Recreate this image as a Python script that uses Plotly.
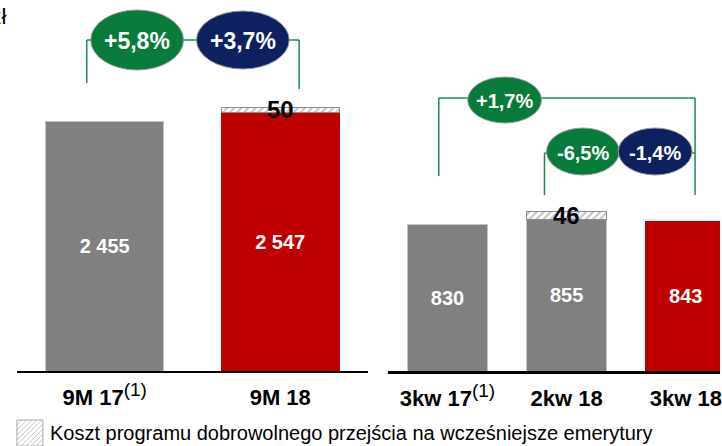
import plotly.graph_objects as go

# ---------------- data ----------------
left_categories = ["9M 17", "9M 18"]
left_values = [2455, 2547]
left_cost = [0, 50]

right_categories = ["3kw 17", "2kw 18", "3kw 18"]
right_values = [830, 855, 843]
right_cost = [0, 46, 0]

left_tick_labels = ["9M 17", "9M 18"]
left_tick_notes = ["(1)", ""]
right_tick_labels = ["3kw 17", "2kw 18", "3kw 18"]
right_tick_notes = ["(1)", "", ""]

left_changes = ["+5,8%", "+3,7%"]
right_changes = ["+1,7%", "-6,5%", "-1,4%"]

legend_label = "Koszt programu dobrowolnego przejścia na wcześniejsze emerytury"
unit_label = "mln zł"

# ---------------- style ----------------
W, H = 722, 446
FONT = "Liberation Sans, Arial, sans-serif"
GRAY = "#808080"
RED = "#C00000"
GREEN = "#087A3A"
NAVY = "#0D2160"
LINE_GREEN = "#1E8A4C"
left_colors = [GRAY, RED]
right_colors = [GRAY, GRAY, RED]
left_outline = ["#C4C4C4", RED]
right_outline = ["#C4C4C4", "#C4C4C4", RED]


def px(x):
    return x / W


def py(y):
    return 1 - y / H


def fmt(v):
    return f"{v:,}".replace(",", " ")


def tick(label, note):
    t = f"<b>{label}</b>"
    if note:
        t += f"<sup><span style='font-size:19px'>{note}</span></sup>"
    return t


fig = go.Figure()

hatch = dict(shape="/", fgcolor="#8C8C8C", bgcolor="white", size=5, solidity=0.45)

for cats, vals, cost, colors, outl, xa, ya in [
    (left_categories, left_values, left_cost, left_colors, left_outline, "x", "y"),
    (right_categories, right_values, right_cost, right_colors, right_outline, "x2", "y2"),
]:
    fig.add_trace(go.Bar(
        x=cats, y=vals, xaxis=xa, yaxis=ya,
        marker=dict(color=colors, line=dict(color=outl, width=1)),
        text=[fmt(v) for v in vals], textposition="inside",
        insidetextanchor="middle", textangle=0,
        textfont=dict(color="white", size=20, family=FONT),
        texttemplate="<b>%{text}</b>",
        hoverinfo="skip", showlegend=False,
    ))
    fig.add_trace(go.Bar(
        x=cats, y=[c if c else None for c in cost], xaxis=xa, yaxis=ya,
        marker=dict(color="white", pattern=hatch, line=dict(color="#8C8C8C", width=1)),
        hoverinfo="skip", showlegend=False,
    ))
    for c, v, k in zip(cats, vals, cost):
        if k:
            fig.add_annotation(
                x=c, y=v + k / 2, xref=xa, yref=ya, text=f"<b>{k}</b>",
                showarrow=False, yanchor="middle", xanchor="center",
                font=dict(size=24, color="black", family=FONT),
            )

base_y = py(371)
fig.update_layout(
    width=W, height=H,
    margin=dict(l=0, r=0, t=0, b=0),
    paper_bgcolor="white", plot_bgcolor="white",
    barmode="stack", bargap=0.33,
    font=dict(family=FONT, color="black"),
    xaxis=dict(domain=[px(17), px(369)], range=[-0.5, 1.5],
               showline=True, linecolor="black", linewidth=2,
               showgrid=False, zeroline=False, ticks="",
               tickvals=left_categories,
               ticktext=[tick(a, b) for a, b in zip(left_tick_labels, left_tick_notes)],
               tickfont=dict(size=22, color="black", family=FONT),
               ticklabelstandoff=6, anchor="y"),
    yaxis=dict(domain=[base_y, 1], range=[0, 3650], visible=False),
    xaxis2=dict(domain=[px(389), 1], range=[-0.5, 2.287],
                showline=True, linecolor="black", linewidth=3,
                showgrid=False, zeroline=False, ticks="",
                tickvals=right_categories,
                ticktext=[tick(a, b) for a, b in zip(right_tick_labels, right_tick_notes)],
                tickfont=dict(size=22, color="black", family=FONT),
                ticklabelstandoff=6, anchor="y2"),
    yaxis2=dict(domain=[base_y, 1], range=[0, 2096], visible=False),
)

shapes = []


def hline(x0, x1, y):
    shapes.append(dict(type="line", xref="paper", yref="paper",
                       x0=px(x0), x1=px(x1), y0=py(y), y1=py(y),
                       line=dict(color=LINE_GREEN, width=1.5)))


def vline(x, y0, y1):
    shapes.append(dict(type="line", xref="paper", yref="paper",
                       x0=px(x), x1=px(x), y0=py(y0), y1=py(y1),
                       line=dict(color=LINE_GREEN, width=1.5)))


def ellipse(x0, x1, y0, y1, color, text, size):
    shapes.append(dict(type="circle", xref="paper", yref="paper",
                       x0=px(x0), x1=px(x1), y0=py(y1), y1=py(y0),
                       fillcolor=color, line=dict(color="#9A9A9A", width=1)))
    fig.add_annotation(x=px((x0 + x1) / 2), y=py((y0 + y1) / 2 + 1.5),
                       xref="paper", yref="paper", text=f"<b>{text}</b>",
                       showarrow=False, xanchor="center", yanchor="middle",
                       font=dict(size=size, color="white", family=FONT))


# left brackets
hline(87, 300, 40)
vline(87, 40, 83)
vline(300, 40, 89)
# right brackets
hline(440, 697, 98)
vline(440, 98, 176)
vline(697, 98, 195)
hline(546, 697, 153)
vline(546, 153, 195)

ellipse(91, 184, 10, 70, GREEN, left_changes[0], 23)
ellipse(197, 290, 11, 69, NAVY, left_changes[1], 23)
ellipse(469, 543, 77, 123, GREEN, right_changes[0], 20)
ellipse(548, 621, 128, 175, GREEN, right_changes[1], 20)
ellipse(620, 694, 128, 175, NAVY, right_changes[2], 20)

# legend swatch (hatched square)
lx0, lx1, ly0, ly1 = 17, 43, 420, 446
size = lx1 - lx0
for k in range(-size, size, 5):
    t0, t1 = max(0, -k), min(size, size - k)
    if t1 > t0:
        shapes.append(dict(type="line", xref="paper", yref="paper",
                           x0=px(lx0 + k + t0), y0=py(ly1 - t0),
                           x1=px(lx0 + k + t1), y1=py(ly1 - t1),
                           line=dict(color="#C8C8C8", width=1)))
shapes.append(dict(type="rect", xref="paper", yref="paper",
                   x0=px(lx0), x1=px(lx1), y0=py(ly1), y1=py(ly0),
                   line=dict(color="#A6A6A6", width=1)))

fig.update_layout(shapes=shapes)

fig.add_annotation(x=px(48), y=py(433), xref="paper", yref="paper",
                   text=legend_label, showarrow=False,
                   xanchor="left", yanchor="middle",
                   font=dict(size=20, color="black", family=FONT))

# unit label (clipped at the left edge)
fig.add_annotation(x=px(9), y=py(2), xref="paper", yref="paper",
                   text=unit_label, showarrow=False,
                   xanchor="right", yanchor="top",
                   font=dict(size=22, color="black", family=FONT))

fig.write_html("out.html", config={"displayModeBar": False},
               post_script="document.body.style.margin='0';")
